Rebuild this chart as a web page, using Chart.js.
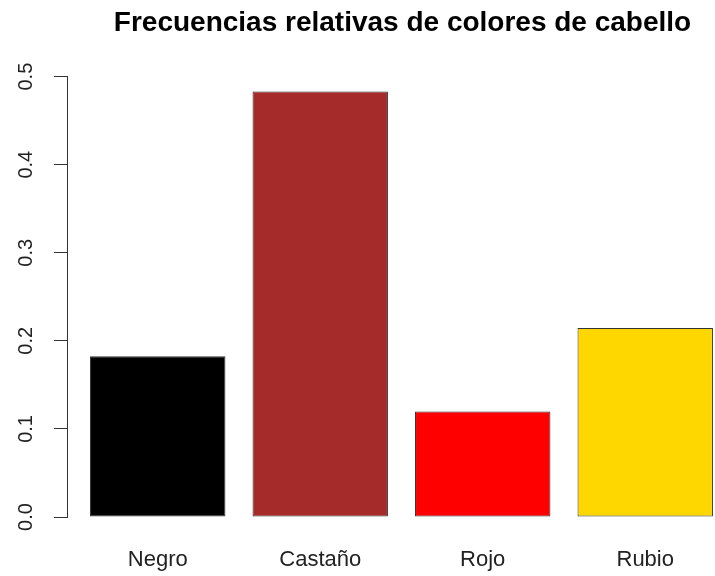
<!DOCTYPE html>
<html>
<head>
<meta charset="utf-8">
<script src="https://cdn.jsdelivr.net/npm/chart.js@4.4.1/dist/chart.umd.min.js"></script>
<style>
  body { margin: 0; background: #fff; overflow: hidden; }
</style>
</head>
<body>
<canvas id="hairChart" width="740" height="576"></canvas>
<script>
const categories = ['Negro', 'Castaño', 'Rojo', 'Rubio'];
const frequencies = [0.1824, 0.4831, 0.1199, 0.2145];
const barColors = ['#000000', '#A52A2A', '#FF0000', '#FFD700'];
const yTicks = [0, 0.1, 0.2, 0.3, 0.4, 0.5];

// barplot layout: bars of width 1 with a 0.2 gap, so centres at 0.7, 1.9, ...
const centers = categories.map((c, i) => 0.7 + 1.2 * i);

const fontFamily = 'Liberation Sans, Arial, sans-serif';

const ctx = document.getElementById('hairChart').getContext('2d');

new Chart(ctx, {
  type: 'bar',
  data: {
    datasets: [
      {
        data: frequencies.map((v, i) => ({ x: centers[i], y: v })),
        backgroundColor: barColors,
        borderColor: '#333333',
        borderWidth: 1,
        borderSkipped: false,
        categoryPercentage: 1,
        barPercentage: 1 / 1.2,
      },
    ],
  },
  options: {
    responsive: false,
    animation: false,
    layout: { padding: { left: 0, right: 2, top: 0, bottom: 0 } },
    plugins: {
      legend: { display: false },
      tooltip: { enabled: false },
      title: {
        display: true,
        fullSize: false,
        text: 'Frecuencias relativas de colores de cabello',
        color: '#000',
        font: { family: fontFamily, size: 28, weight: 'bold', lineHeight: 1.2 },
        padding: { top: 6, bottom: 37 },
      },
    },
    scales: {
      x: {
        type: 'linear',
        offset: false,
        min: 0.03,
        max: 4.985,
        grid: { display: false, drawTicks: false },
        border: { display: false },
        afterBuildTicks: (scale) => {
          scale.ticks = centers.map((v) => ({ value: v }));
        },
        afterFit: (scale) => {
          scale.height = 59;
        },
        ticks: {
          autoSkip: false,
          maxRotation: 0,
          padding: 30,
          color: '#222',
          font: { family: fontFamily, size: 22 },
          callback: (value, index) => categories[index],
        },
      },
      y: {
        min: 0,
        max: 0.5,
        afterBuildTicks: (scale) => {
          scale.ticks = yTicks.map((v) => ({ value: v }));
        },
        afterFit: (scale) => {
          scale.width = 67;
        },
        grid: {
          drawOnChartArea: false,
          drawTicks: true,
          tickLength: 13,
          color: '#333',
        },
        border: { display: true, color: '#333', width: 1 },
        ticks: {
          minRotation: 90,
          maxRotation: 90,
          crossAlign: 'center',
          padding: 14,
          color: '#222',
          font: { family: fontFamily, size: 20 },
          callback: (value) => value.toFixed(1),
        },
      },
    },
  },
});
</script>
</body>
</html>
